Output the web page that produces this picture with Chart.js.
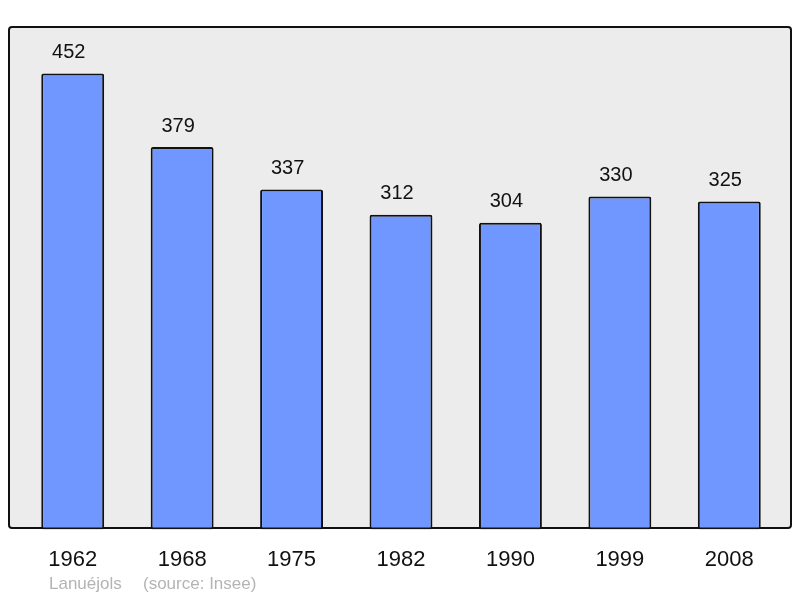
<!DOCTYPE html>
<html>
<head>
<meta charset="utf-8">
<script src="https://cdn.jsdelivr.net/npm/chart.js@4"></script>
<style>
  html, body { margin: 0; padding: 0; background: #fff; }
  #wrap { width: 800px; height: 598px; }
</style>
</head>
<body>
<div id="wrap"><canvas id="popChart"></canvas></div>
<script>
const years = ['1962', '1968', '1975', '1982', '1990', '1999', '2008'];
const population = [452, 379, 337, 312, 304, 330, 325];
const footerName = 'Lanuéjols';
const footerSource = '(source: Insee)';

const FONT = '"Liberation Sans", Arial, sans-serif';

// cadre gris derriere les barres
const framePlugin = {
    id: 'frame',
    beforeDraw(chart) {
        const ctx = chart.ctx;
        ctx.save();
        ctx.beginPath();
        ctx.roundRect(9, 27, 782, 501, 3);
        ctx.fillStyle = '#ececec';
        ctx.fill();
        ctx.lineWidth = 2;
        ctx.strokeStyle = '#111';
        ctx.stroke();
        ctx.restore();
    },
    afterDatasetsDraw(chart) {
        const ctx = chart.ctx;
        const meta = chart.getDatasetMeta(0);
        ctx.save();
        ctx.fillStyle = '#111';
        ctx.font = '20px ' + FONT;
        ctx.textAlign = 'center';
        ctx.textBaseline = 'middle';
        meta.data.forEach((bar, i) => {
            ctx.fillText(String(population[i]), bar.x - 4, bar.y - 21);
        });
        // legende source
        ctx.fillStyle = '#b4b4b4';
        ctx.font = '17px ' + FONT;
        ctx.textAlign = 'left';
        ctx.fillText(footerName, 49, 584);
        ctx.fillText(footerSource, 143, 584);
        ctx.restore();
    }
};

new Chart(document.getElementById('popChart'), {
    type: 'bar',
    data: {
        labels: years,
        datasets: [{
            data: population,
            backgroundColor: '#7097ff',
            borderColor: '#111',
            borderWidth: 2,
            borderRadius: 2,
            borderSkipped: false,
            barPercentage: 0.575,
            categoryPercentage: 1
        }]
    },
    options: {
        responsive: true,
        maintainAspectRatio: false,
        animation: false,
        layout: { padding: { left: 18, right: 16, top: 27, bottom: 8 } },
        scales: {
            x: {
                grid: { display: false, drawTicks: false },
                border: { display: false },
                ticks: { color: '#111', font: { size: 22, family: FONT }, padding: 17 }
            },
            y: {
                display: false,
                min: 0,
                max: 498
            }
        },
        plugins: {
            legend: { display: false },
            tooltip: { enabled: false }
        }
    },
    plugins: [framePlugin]
});
</script>
</body>
</html>
